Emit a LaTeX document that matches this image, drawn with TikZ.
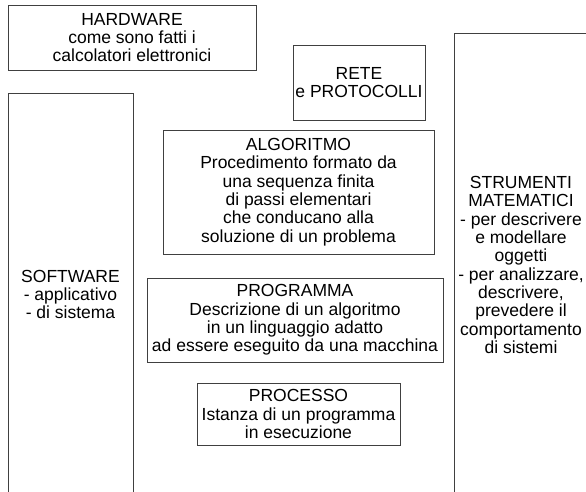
\documentclass[tikz,border=0pt]{standalone}
\usepackage{fontspec}
\setmainfont{Liberation Sans}

\begin{document}
\begin{tikzpicture}[x=1pt, y=-1pt,
    box/.style={draw=black!75, line width=0.8pt, inner sep=0pt, align=center,
      font=\fontsize{17.5}{18.3}\selectfont}]
    \useasboundingbox (0,0) rectangle (586,492);
    \clip (0,0) rectangle (586,492);
    \path (132, 37.5) node [box, minimum width=248, minimum height=65] (hardware)
      {HARDWARE\\come sono fatti i\\calcolatori elettronici};
    \path (359, 82.5) node [box, minimum width=132, minimum height=75] (rete)
      {RETE\\e PROTOCOLLI};
    \path (298.5, 192) node [box, minimum width=271, minimum height=124] (algoritmo)
      {ALGORITMO\\Procedimento formato da\\una sequenza finita\\di passi elementari\\che conducano alla\\soluzione di un problema};
    \path (295, 320) node [box, minimum width=296, minimum height=84] (programma)
      {PROGRAMMA\\Descrizione di un algoritmo\\in un linguaggio adatto\\ad essere eseguito da una macchina};
    \path (298.5, 414) node [box, minimum width=203, minimum height=62] (processo)
      {PROCESSO\\Istanza di un programma\\in esecuzione};
    % colonne laterali, tagliate dal bordo
    \path (70.5, 294.5) node [box, minimum width=125, minimum height=403] (software)
      {SOFTWARE\\- applicativo\\- di sistema};
    \path (521, 265) node [box, minimum width=134, minimum height=464] (strumenti)
      {STRUMENTI\\MATEMATICI\\- per descrivere\\e modellare\\oggetti\\- per analizzare,\\descrivere,\\prevedere il\\comportamento\\di sistemi};
\end{tikzpicture}
\end{document}
